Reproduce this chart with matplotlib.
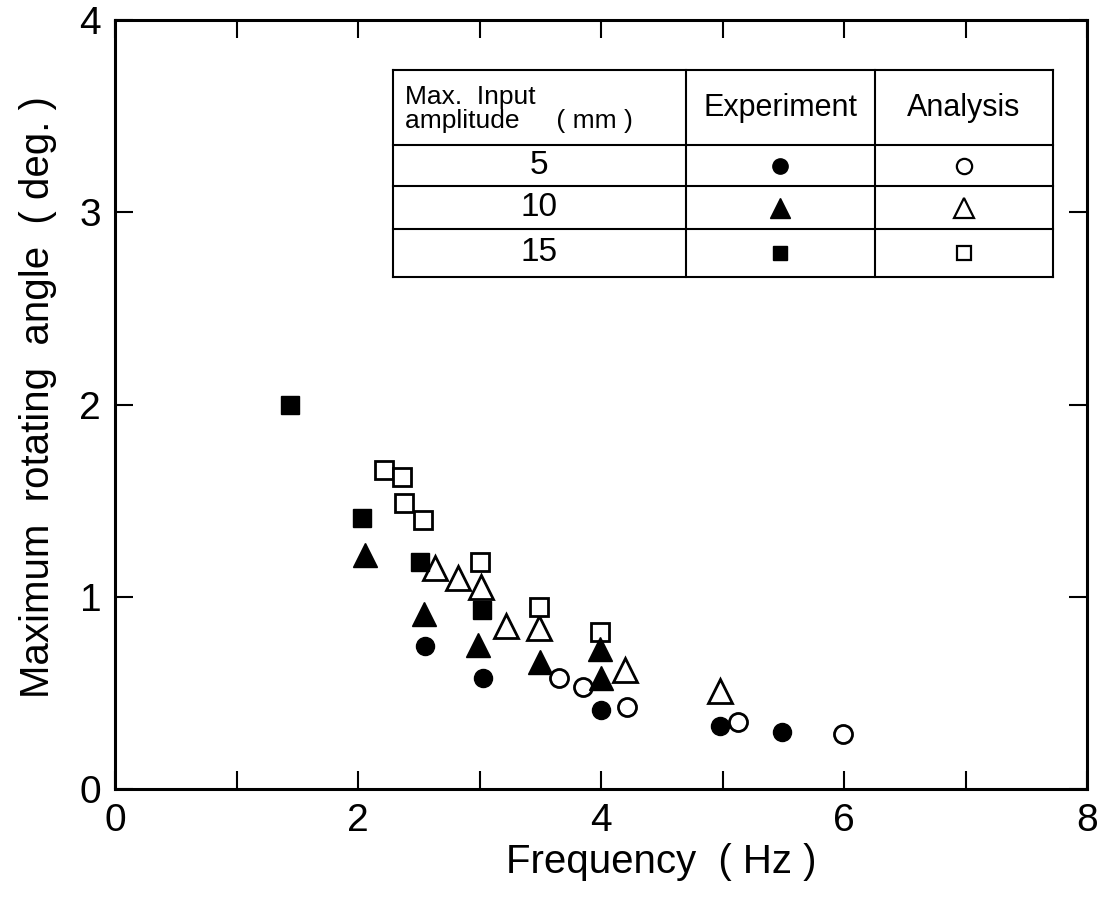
import matplotlib
matplotlib.use('Agg')
import matplotlib.pyplot as plt

plt.rcParams['font.family'] = ['Liberation Sans', 'DejaVu Sans']

# Experiment (filled) and analysis (open) results, per max. input amplitude
exp5_x = [2.55, 3.03, 4.0, 4.98, 5.49]
exp5_y = [0.745, 0.58, 0.41, 0.33, 0.30]
exp10_x = [2.06, 2.54, 2.99, 3.5, 3.99, 4.0]
exp10_y = [1.22, 0.91, 0.75, 0.66, 0.73, 0.58]
exp15_x = [1.44, 2.03, 2.51, 3.02]
exp15_y = [2.0, 1.41, 1.18, 0.93]

ana5_x = [3.65, 3.85, 4.21, 5.13, 5.99]
ana5_y = [0.58, 0.53, 0.43, 0.35, 0.29]
ana10_x = [2.63, 2.82, 3.01, 3.22, 3.49, 4.2, 4.98]
ana10_y = [1.15, 1.10, 1.05, 0.85, 0.84, 0.62, 0.51]
ana15_x = [2.21, 2.36, 2.38, 2.53, 3.0, 3.49, 3.99]
ana15_y = [1.66, 1.625, 1.49, 1.40, 1.18, 0.95, 0.82]

amplitudes = ['5', '10', '15']
markers = ['o', '^', 's']
sizes = [13, 17, 13]

fig = plt.figure(figsize=(11.07, 9), dpi=100)
ax = fig.add_axes([0.104, 0.123, 0.878, 0.855])

exp_sets = [(exp5_x, exp5_y), (exp10_x, exp10_y), (exp15_x, exp15_y)]
ana_sets = [(ana5_x, ana5_y), (ana10_x, ana10_y), (ana15_x, ana15_y)]

for (xs, ys), m, s in zip(exp_sets, markers, sizes):
    ax.plot(xs, ys, linestyle='none', marker=m, markersize=s,
            color='black', markeredgewidth=1, zorder=3)
for (xs, ys), m, s in zip(ana_sets, markers, sizes):
    ax.plot(xs, ys, linestyle='none', marker=m, markersize=s,
            markerfacecolor='white', markeredgecolor='black',
            markeredgewidth=2, zorder=2)

ax.set_xlim(0, 8)
ax.set_ylim(0, 4)
ax.set_xticks(range(0, 9))
ax.set_xticklabels(['0', '', '2', '', '4', '', '6', '', '8'])
ax.set_yticks(range(0, 5))
ax.tick_params(direction='in', length=13, width=1.5, top=True, right=True,
               labelsize=28, pad=10)
for sp in ax.spines.values():
    sp.set_linewidth(2.2)

ax.set_xlabel('Frequency  ( Hz )', fontsize=29)
ax.xaxis.set_label_coords(0.562, -0.07)
ax.set_ylabel('Maximum  rotating  angle  ( deg. )', fontsize=29)
ax.yaxis.set_label_coords(-0.06, 0.51)

# Legend table drawn inside the axes
tl, tr = 0.286, 0.965
c1, c2 = 0.587, 0.782
rows = [0.935, 0.837, 0.784, 0.728, 0.666]
lw = 1.5
for yv in rows:
    ax.plot([tl, tr], [yv, yv], color='black', lw=lw, transform=ax.transAxes,
            clip_on=False, zorder=4)
for xv in [tl, c1, c2, tr]:
    ax.plot([xv, xv], [rows[0], rows[-1]], color='black', lw=lw,
            transform=ax.transAxes, clip_on=False, zorder=4)

hy = (rows[0] + rows[1]) / 2
ax.text(0.298, hy + 0.014, 'Max.  Input', fontsize=19, transform=ax.transAxes,
        ha='left', va='center')
ax.text(0.298, hy - 0.017, 'amplitude     ( mm )', fontsize=19,
        transform=ax.transAxes, ha='left', va='center')
ax.text((c1 + c2) / 2, hy, 'Experiment', fontsize=22, transform=ax.transAxes,
        ha='center', va='center')
ax.text((c2 + tr) / 2, hy, 'Analysis', fontsize=22, transform=ax.transAxes,
        ha='center', va='center')

tsizes = [11, 14, 10]
for i, (amp, m, s) in enumerate(zip(amplitudes, markers, tsizes)):
    ry = (rows[i + 1] + rows[i + 2]) / 2
    ax.text((tl + c1) / 2, ry, amp, fontsize=24, transform=ax.transAxes,
            ha='center', va='center')
    ax.plot([(c1 + c2) / 2], [ry], marker=m, markersize=s, color='black',
            transform=ax.transAxes, clip_on=False, linestyle='none', zorder=5)
    ax.plot([(c2 + tr) / 2], [ry], marker=m, markersize=s,
            markerfacecolor='white', markeredgecolor='black',
            markeredgewidth=1.6, transform=ax.transAxes, clip_on=False,
            linestyle='none', zorder=5)

fig.savefig('out.png', dpi=100)
